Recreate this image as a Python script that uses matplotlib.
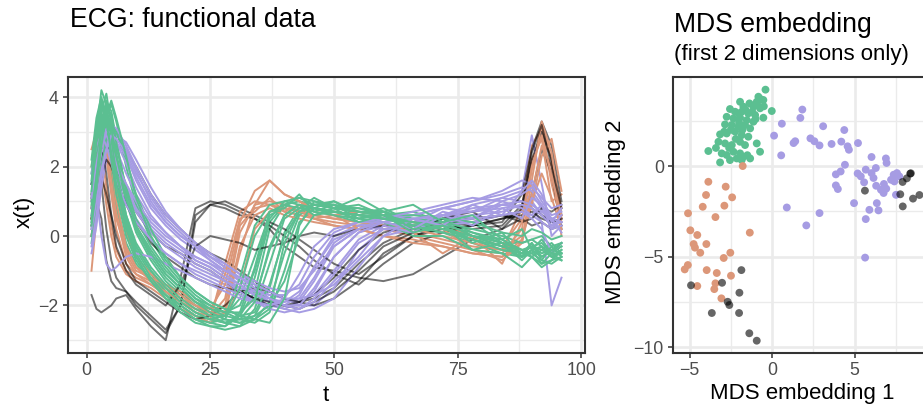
import matplotlib.pyplot as plt
import numpy as np

plt.rcParams['font.family'] = ['Liberation Sans', 'DejaVu Sans']

# colours of the four clusters
GREEN = '#5BBF91'
ORANGE = '#DC9779'
PURPLE = '#A69CE3'
BLACK = '#000000'

# time grid of the ECG curves (values read at these t)
t = [1, 2, 3, 4, 5, 6, 8, 10, 13, 16, 19, 22, 25, 28, 31, 34,
     37, 40, 43, 46, 50, 55, 60, 66, 72, 78, 84, 88, 90, 92, 94, 96]

green_curves = [
    [1.0, 2.5, 3.6, 4.1, 3.2, 2.0, 0.6, -0.3, -1.0, -1.5, -1.9, -2.2, -2.4, -2.5, -2.3, -1.6, 0.2, 0.9, 1.0, 0.9, 0.9, 0.6, 0.8, 0.4, 0.5, 0.0, -0.2, -0.5, -0.2, -0.6, -0.4, -0.5],
    [0.5, 1.8, 3.0, 3.8, 3.6, 2.8, 1.2, 0.2, -0.6, -1.2, -1.6, -2.0, -2.2, -2.4, -2.5, -2.3, -1.5, 0.1, 0.8, 1.1, 0.8, 0.9, 0.6, 0.7, 0.4, 0.4, -0.2, -0.2, -0.1, -0.3, -0.5, -0.3],
    [2.0, 3.2, 3.9, 3.0, 1.8, 0.9, -0.2, -0.8, -1.3, -1.7, -2.0, -2.3, -2.5, -2.6, -2.3, -1.2, 0.4, 0.9, 1.1, 0.9, 0.8, 0.8, 0.6, 0.4, 0.2, -0.1, -0.4, -0.6, -0.5, -0.7, -0.8, -0.6],
    [-0.2, 0.8, 2.4, 3.4, 3.8, 3.3, 2.0, 0.9, -0.1, -0.8, -1.3, -1.7, -2.0, -2.2, -2.4, -2.5, -2.2, -1.0, 0.4, 0.8, 1.0, 0.6, 0.6, 0.2, 0.3, -0.1, -0.3, -0.6, -0.4, -0.3, -0.6, -0.7],
    [1.5, 2.8, 3.5, 3.1, 2.4, 1.6, 0.4, -0.4, -1.1, -1.6, -2.0, -2.3, -2.4, -2.3, -1.8, -0.6, 0.6, 0.8, 0.7, 0.8, 0.6, 0.5, 0.4, 0.2, 0.1, -0.2, -0.5, -0.6, -0.4, -0.6, -0.4, -0.3],
    [0.8, 2.0, 3.3, 3.9, 3.4, 2.4, 1.0, 0.1, -0.7, -1.3, -1.7, -2.0, -2.3, -2.5, -2.6, -2.4, -1.9, -0.5, 0.6, 0.9, 1.0, 0.7, 0.7, 0.3, 0.5, 0.1, -0.1, -0.4, -0.6, -0.4, -0.2, -0.5],
    [0.2, 1.5, 2.8, 3.3, 3.0, 2.2, 1.0, 0.2, -0.5, -1.1, -1.5, -1.9, -2.1, -2.2, -2.0, -1.0, 0.5, 1.0, 1.1, 1.0, 0.9, 0.8, 0.7, 0.5, 0.4, 0.2, 0.0, -0.2, -0.1, 0.0, -0.3, -0.2],
    [1.8, 3.0, 3.7, 3.5, 2.6, 1.5, 0.3, -0.5, -1.2, -1.7, -2.1, -2.4, -2.6, -2.7, -2.6, -2.1, -0.8, 0.5, 0.8, 0.7, 0.6, 0.4, 0.4, 0.0, 0.0, -0.4, -0.5, -0.9, -0.6, -0.9, -0.7, -0.6],
    [0.0, 1.0, 2.0, 2.8, 3.2, 3.0, 2.2, 1.2, 0.2, -0.6, -1.2, -1.6, -1.9, -2.1, -2.3, -2.2, -1.4, 0.0, 0.7, 0.9, 0.8, 0.7, 0.6, 0.6, 0.5, 0.4, 0.1, 0.0, 0.2, 0.1, -0.1, 0.0],
    [1.2, 2.6, 3.4, 3.6, 2.9, 1.9, 0.6, -0.2, -0.9, -1.4, -1.8, -2.1, -2.3, -2.3, -1.2, 0.3, 0.9, 1.0, 0.9, 0.8, 0.7, 0.6, 0.5, 0.3, 0.2, 0.0, -0.3, -0.4, -0.3, -0.5, -0.4, -0.2],
    [0.6, 1.9, 2.9, 3.5, 3.3, 2.6, 1.4, 0.5, -0.3, -0.9, -1.4, -1.8, -2.1, -2.3, -2.4, -2.3, -2.0, -1.3, 0.0, 0.6, 0.7, 0.5, 0.6, 0.3, 0.4, 0.0, -0.1, -0.5, -0.3, -0.2, -0.5, -0.5],
    [2.2, 3.4, 4.0, 3.4, 2.2, 1.2, 0.0, -0.7, -1.3, -1.8, -2.1, -2.4, -2.5, -2.4, -1.5, 0.0, 0.7, 0.9, 0.8, 0.8, 0.7, 0.6, 0.5, 0.3, 0.1, -0.1, -0.4, -0.5, -0.3, -0.4, -0.6, -0.5],
    [0.9, 2.2, 3.1, 3.7, 3.5, 2.7, 1.3, 0.3, -0.5, -1.1, -1.5, -1.9, -2.2, -2.4, -2.5, -2.4, -2.1, -0.2, 0.7, 0.9, 0.8, 0.7, 0.6, 0.4, 0.3, 0.1, -0.2, -0.4, -0.5, -0.3, -0.6, -0.4],
    [1.6, 3.0, 4.2, 3.8, 2.8, 1.8, 0.5, -0.3, -1.0, -1.5, -1.9, -2.2, -2.4, -2.5, -2.4, -1.9, -0.3, 0.6, 0.9, 0.8, 0.7, 0.6, 0.5, 0.4, 0.2, 0.0, -0.3, -0.5, -0.6, -0.8, -0.7, -0.4],
    [0.3, 1.4, 2.6, 3.5, 3.9, 3.4, 2.3, 1.1, 0.0, -0.7, -1.2, -1.6, -1.9, -2.1, -2.3, -2.4, -2.5, -1.8, 0.3, 1.0, 0.8, 1.1, 0.7, 0.9, 0.4, 0.6, -0.1, 0.2, -0.4, -0.1, -0.5, -0.2],
    [1.3, 2.7, 3.8, 3.3, 2.4, 1.5, 0.2, -0.6, -1.3, -1.8, -2.2, -2.5, -2.6, -2.6, -2.2, -0.9, 0.7, 0.8, 1.2, 0.7, 0.9, 0.5, 0.7, 0.2, 0.3, -0.4, -0.2, -0.7, -0.4, -0.8, -0.5, -0.7],
    [0.4, 1.7, 3.0, 3.6, 3.1, 2.3, 1.1, 0.3, -0.4, -1.0, -1.4, -1.8, -2.0, -2.2, -2.2, -1.8, -0.4, 0.6, 0.9, 0.6, 0.8, 0.4, 0.6, 0.1, 0.3, -0.2, 0.1, -0.6, -0.2, -0.7, -0.3, -0.6],
]

purple_curves = [
    [0.5, 1.5, 2.6, 3.2, 3.3, 3.0, 2.3, 1.6, 0.8, 0.3, -0.1, -0.4, -0.7, -1.0, -1.3, -1.6, -1.8, -1.9, -1.8, -1.2, -0.2, 0.3, 0.5, 0.4, 0.8, 0.7, 1.1, 1.0, 1.0, 0.6, 0.3, 0.4],
    [1.0, 2.0, 2.8, 3.0, 2.7, 2.2, 1.5, 0.9, 0.3, -0.1, -0.4, -0.7, -0.9, -1.2, -1.5, -1.7, -1.9, -2.0, -2.0, -1.6, -0.6, 0.1, 0.3, 0.4, 0.6, 0.7, 0.9, 1.0, 1.2, 0.8, 0.2, 0.5],
    [0.0, 0.9, 2.0, 2.8, 3.1, 3.0, 2.5, 1.9, 1.0, 0.4, 0.0, -0.3, -0.6, -0.9, -1.2, -1.5, -1.7, -1.8, -1.9, -1.7, -1.0, -0.1, 0.3, 0.4, 0.6, 0.9, 1.1, 1.3, 2.9, 1.5, 0.0, 0.3],
    [1.5, 2.5, 3.0, 2.8, 2.3, 1.8, 1.1, 0.5, -0.1, -0.5, -0.8, -1.0, -1.2, -1.4, -1.6, -1.8, -2.0, -2.1, -1.9, -1.3, -0.3, 0.2, 0.3, 0.4, 0.5, 0.6, 0.7, 0.9, 0.8, 0.4, -2.0, -1.2],
    [0.3, 1.2, 2.2, 2.9, 3.2, 3.1, 2.6, 2.0, 1.2, 0.6, 0.2, -0.2, -0.5, -0.8, -1.1, -1.4, -1.6, -1.8, -2.0, -2.0, -1.5, -0.4, 0.2, 0.1, 0.6, 0.5, 0.9, 0.8, 0.9, 0.7, 0.5, 0.6],
    [0.8, 1.8, 2.7, 3.1, 2.9, 2.5, 1.8, 1.2, 0.5, 0.1, -0.3, -0.6, -0.8, -1.1, -1.4, -1.7, -1.9, -2.0, -1.7, -0.9, 0.0, 0.3, 0.4, 0.6, 0.8, 1.0, 1.2, 1.4, 1.3, 0.9, 0.4, 0.2],
    [-0.5, 0.3, 1.4, 2.2, 2.7, 2.9, 2.7, 2.2, 1.4, 0.7, 0.2, -0.2, -0.6, -0.9, -1.3, -1.6, -1.9, -2.1, -2.2, -2.1, -1.8, -0.9, 0.0, 0.2, 0.3, 0.4, 0.6, 0.7, 0.6, 0.4, 0.2, 0.3],
    [1.2, 2.2, 2.9, 3.0, 2.6, 2.0, 1.3, 0.7, 0.1, -0.3, -0.6, -0.9, -1.1, -1.3, -1.5, -1.6, -1.7, -1.7, -1.4, -0.6, 0.1, 0.4, 0.5, 0.6, 0.8, 1.0, 1.3, 1.6, 1.5, 1.0, 0.6, 0.7],
    [0.6, 1.6, 2.4, 2.7, 2.5, 2.1, 1.4, 0.8, 0.2, -0.2, -0.5, -0.8, -1.0, -1.3, -1.6, -1.9, -2.1, -2.2, -2.1, -1.8, -1.1, -0.2, 0.2, 0.3, 0.4, 0.5, 0.6, 0.7, 0.5, 0.2, -0.5, -0.2],
    [0.2, 1.0, 1.9, 2.5, 2.8, 2.7, 2.3, 1.7, 0.9, 0.4, 0.0, -0.3, -0.6, -0.8, -1.1, -1.3, -1.5, -1.6, -1.5, -1.0, -0.3, 0.2, 0.5, 0.7, 0.9, 1.1, 1.0, 1.2, 1.4, 1.1, 0.8, 0.9],
    [0.8, 1.2, 0.0, -0.8, -1.0, -0.9, -0.6, -0.5, -0.6, -0.8, -1.0, -1.2, -1.4, -1.6, -1.8, -1.9, -2.0, -1.9, -1.6, -0.9, -0.1, 0.2, 0.4, 0.5, 0.6, 0.7, 0.8, 0.9, 0.8, 0.6, 0.3, 0.4],
    [1.8, 2.6, 2.9, 2.6, 2.1, 1.6, 0.9, 0.4, -0.1, -0.5, -0.8, -1.1, -1.3, -1.5, -1.7, -1.9, -2.0, -1.8, -1.1, -0.3, 0.2, 0.4, 0.4, 0.5, 0.6, 0.8, 0.9, 1.0, 0.9, 0.7, 0.5, 0.4],
    [0.4, 1.4, 2.5, 3.0, 3.0, 2.7, 2.1, 1.4, 0.6, 0.1, -0.3, -0.7, -0.9, -1.2, -1.4, -1.7, -1.8, -2.0, -2.1, -1.9, -1.3, -0.6, 0.3, 0.1, 0.6, 0.3, 0.8, 0.5, 1.1, 0.9, 0.2, 0.6],
    [1.1, 2.1, 2.8, 2.9, 2.6, 2.1, 1.5, 1.0, 0.4, 0.0, -0.3, -0.6, -0.8, -1.0, -1.2, -1.4, -1.6, -1.8, -1.8, -1.7, -1.4, -0.7, 0.0, 0.5, 0.3, 0.9, 0.6, 1.3, 1.6, 1.2, 0.4, 0.8],
    [-0.3, 0.6, 1.7, 2.5, 2.9, 2.8, 2.4, 1.8, 1.1, 0.5, 0.1, -0.3, -0.7, -1.0, -1.2, -1.5, -1.8, -2.0, -2.0, -1.5, -0.6, 0.1, 0.4, 0.2, 0.7, 0.5, 1.0, 0.8, 0.6, 0.9, 0.5, 0.1],
]

orange_curves = [
    [1.0, 2.2, 3.0, 2.4, 1.2, 0.2, -0.8, -1.1, -1.3, -1.6, -1.9, -2.2, -2.3, -1.8, 0.3, 0.8, 0.9, 0.8, 0.7, 0.6, 0.5, 0.4, 0.3, 0.1, -0.1, -0.3, -0.4, 0.8, 2.6, 3.1, 1.5, 0.4],
    [2.0, 2.9, 2.5, 1.4, 0.3, -0.4, -1.0, -1.2, -1.4, -1.7, -2.0, -2.3, -2.4, -0.8, 0.7, 1.0, 0.9, 0.7, 0.6, 0.5, 0.4, 0.3, 0.2, 0.0, -0.2, -0.4, -0.5, 0.2, 1.9, 3.2, 2.2, 0.8],
    [-1.0, 0.5, 2.3, 2.8, 1.9, 0.8, -0.5, -1.0, -1.2, -1.5, -1.8, -2.0, -2.1, -2.2, -0.5, 0.9, 1.6, 1.2, 1.0, 0.8, 0.7, 0.6, 0.5, 0.4, 0.3, 0.0, -0.3, 0.5, 2.2, 2.8, 1.0, 1.2],
    [0.5, 1.6, 2.6, 3.1, 2.2, 1.0, -0.3, -0.9, -1.3, -1.5, -1.8, -2.1, -2.2, -2.0, 0.1, 0.9, 1.0, 0.9, 0.7, 0.5, 0.3, 0.2, 0.0, -0.1, -0.3, -0.5, -0.6, -0.2, 1.2, 2.6, 2.0, 0.0],
    [2.5, 3.0, 2.0, 0.9, 0.0, -0.6, -1.1, -1.3, -1.5, -1.8, -2.1, -2.3, -2.5, -2.2, -0.3, 0.6, 0.8, 0.6, 0.5, 0.4, 0.3, 0.2, 0.0, -0.2, -0.3, -0.5, -0.6, -0.1, 0.9, 2.3, 2.8, 1.3],
    [1.2, 2.3, 2.7, 2.2, 1.3, 0.5, -0.4, -0.9, -1.2, -1.4, -1.6, -1.9, -2.1, -1.4, 0.4, 1.3, 1.6, 1.2, 1.0, 0.7, 0.6, 0.7, 0.6, 0.4, 0.2, -0.4, -0.7, -0.2, 1.6, 3.3, 2.4, 0.5],
    [0.0, 1.2, 2.0, 2.4, 2.0, 1.3, 0.1, -0.6, -1.1, -1.4, -1.7, -2.0, -2.2, -2.3, -1.5, 0.2, 0.7, 0.8, 0.7, 0.6, 0.5, 0.4, 0.3, 0.2, 0.0, -0.2, -0.4, 0.0, 1.0, 1.8, 1.1, 0.2],
    [0.8, 1.9, 2.8, 2.6, 1.6, 0.6, -0.6, -1.1, -1.4, -1.6, -1.9, -2.1, -2.3, -1.1, 0.5, 0.7, 1.1, 0.7, 0.9, 0.5, 0.6, 0.2, 0.4, 0.1, -0.5, 0.0, -0.8, 0.4, 2.0, 2.9, 1.7, 0.6],
]

black_curves = [
    [-1.7, -2.1, -2.2, -2.1, -2.0, -1.8, -1.7, -2.1, -2.6, -3.0, -1.2, 0.8, 1.0, 0.9, 0.7, 0.5, 0.2, -0.3, -0.6, -0.9, -1.0, -1.2, -1.3, -1.1, -0.6, -0.1, 0.2, 0.5, 1.2, 2.5, 1.8, 0.2],
    [1.2, 1.8, 2.2, 2.4, 2.5, 2.6, 2.5, 2.0, 1.2, 0.6, 0.2, -0.2, -0.5, -0.7, -1.0, -1.3, -1.6, -1.8, -1.9, -1.8, -1.5, -0.8, -0.2, 0.2, 0.4, 0.3, 0.5, 0.7, 0.8, 0.6, 0.4, 0.5],
    [0.0, 1.0, 0.5, -0.7, -1.3, -1.5, -1.6, -1.9, -2.3, -2.7, -2.0, 0.6, 0.9, 0.8, 0.6, 0.5, 0.3, 0.0, -0.3, -0.7, -1.1, -1.4, -0.8, -0.2, 0.1, 0.3, 0.4, 1.2, 2.5, 3.3, 2.6, 1.0],
    [1.1, 2.4, 1.5, 0.2, -0.7, -1.2, -1.6, -2.0, -2.4, -2.8, -2.0, 0.4, 0.9, 1.0, 0.8, 0.6, 0.4, 0.2, -0.1, -0.4, -0.8, -1.1, -0.6, 0.0, 0.3, 0.2, 0.3, 0.9, 2.2, 3.0, 2.2, 0.6],
    [0.8, 1.6, 2.3, 2.6, 2.4, 2.0, 1.3, 0.7, 0.1, -0.3, -0.5, -0.8, -1.0, -1.3, -1.6, -1.8, -2.0, -2.0, -1.9, -1.7, -1.2, -0.4, 0.1, 0.3, 0.5, 0.4, 0.6, 0.5, 0.3, 0.4, 0.2, 0.3],
    [1.5, 2.0, 1.7, 1.2, 0.6, 0.0, -0.8, -1.3, -1.6, -1.9, -2.2, -2.4, -2.3, -2.0, -1.6, -1.5, -1.6, -1.8, -1.9, -2.0, -1.8, -1.3, -0.5, 0.0, 0.2, 0.3, 0.5, 0.6, 0.7, 0.5, 0.4, 0.5],
    [0.5, 1.5, 2.6, 1.8, 0.6, -0.3, -1.0, -1.4, -1.7, -2.0, -1.4, -0.3, 0.0, -0.1, -0.2, -0.4, -0.3, -0.2, 0.0, 0.1, 0.0, 0.2, 0.3, 0.2, 0.4, 0.5, 0.6, 0.4, 0.5, 0.8, 0.7, 0.9],
    [0.3, 1.1, 1.9, 2.2, 2.0, 1.6, 0.9, 0.4, -0.2, -0.6, -0.9, -1.2, -1.4, -1.5, -1.6, -1.8, -1.9, -2.0, -2.1, -1.9, -1.6, -1.0, -0.3, 0.1, 0.5, 0.7, 0.2, 0.8, 2.4, 3.2, 2.0, 0.8],
]

# MDS embedding, (dim 1, dim 2) per observation
green_pts = [(-0.40, 4.22), (-0.83, 3.83), (-0.53, 3.65), (-0.93, 3.55), (-0.02, 3.04), (-1.94, 3.55),
             (-1.37, 3.46), (-1.74, 3.28), (-1.13, 3.28), (-0.73, 3.19), (-2.55, 3.15), (-2.24, 3.00),
             (-1.84, 3.00), (-1.44, 2.91), (-1.03, 2.82), (-0.53, 2.67), (-2.75, 2.72), (-2.34, 2.63),
             (-1.94, 2.67), (-1.53, 2.54), (-1.13, 2.45), (-2.85, 2.30), (-2.44, 2.27), (-2.04, 2.17),
             (-1.64, 2.27), (-1.33, 2.08), (-3.15, 1.75), (-2.75, 1.80), (-2.24, 1.90), (-1.84, 1.71),
             (-1.44, 1.62), (-3.25, 1.34), (-2.85, 1.25), (-2.44, 1.16), (-1.94, 1.34), (-1.64, 1.16),
             (-0.93, 1.25), (-3.86, 0.83), (-3.05, 0.70), (-2.75, 0.61), (-2.34, 0.79), (-1.94, 0.70),
             (-1.74, 0.51), (-1.33, 0.42), (-0.73, 0.79), (-3.15, 0.20), (-2.55, 0.33), (-2.14, 0.42),
             (-1.84, 0.33), (-2.50, 2.00), (-2.00, 2.40), (-1.20, 3.00), (-0.70, 3.70), (-1.60, 3.10),
             (-2.90, 1.90), (-2.20, 1.50), (-1.00, 2.60), (-0.50, 3.30), (-3.40, 1.00), (-2.60, 1.00),
             (-1.50, 0.60), (-0.90, 3.40), (-2.00, 2.90), (-1.80, 2.00)]

purple_pts = [(1.83, 3.12), (1.71, 2.66), (0.59, 2.34), (3.09, 2.20), (0.12, 1.68), (1.30, 1.27),
              (1.40, 1.37), (2.32, 1.53), (2.56, 1.37), (2.87, 1.14), (3.60, 1.22), (4.19, 1.35),
              (4.37, 1.99), (4.57, 1.09), (4.65, 0.90), (5.20, 1.27), (0.55, 0.59), (4.41, 0.07),
              (6.02, 0.50), (6.89, 0.42), (6.93, 0.17), (3.86, -0.46), (4.15, -0.30), (5.18, -0.41),
              (5.37, -0.57), (5.67, -0.20), (6.02, -0.39), (6.28, -0.11), (6.14, -0.66), (5.57, -0.90),
              (3.86, -1.07), (3.98, -1.27), (4.96, -2.05), (6.30, -1.09), (6.77, -0.99), (6.91, -1.25),
              (6.59, -1.31), (6.75, -1.49), (7.36, -0.48), (7.56, -0.39), (7.70, -0.57), (7.40, -0.85),
              (7.20, -0.76), (7.50, -1.59), (0.89, -2.29), (2.07, -3.28), (2.87, -2.60), (5.89, -2.42),
              (6.34, -2.05), (6.44, -2.45), (5.67, -2.93), (5.63, -5.06)]

orange_pts = [(-1.78, 0.00), (-3.86, -0.87), (-2.81, -1.14), (-4.00, -1.60), (-2.42, -1.73), (-4.20, -2.25),
              (-2.89, -2.19), (-5.09, -2.61), (-3.43, -2.82), (-4.95, -3.55), (-4.53, -3.81), (-1.35, -3.68),
              (-4.75, -4.31), (-4.67, -4.51), (-3.98, -4.31), (-4.35, -4.79), (-2.53, -4.79), (-2.93, -5.08),
              (-5.10, -5.47), (-5.29, -5.71), (-3.96, -5.75), (-3.35, -5.91), (-2.49, -6.06), (-4.53, -6.63),
              (-3.43, -6.48), (-3.50, -6.80), (-3.07, -7.31)]

black_pts = [(-1.86, -5.75), (-4.91, -6.59), (-3.03, -6.45), (-1.98, -7.00), (-2.69, -7.50), (-2.59, -7.68),
             (-3.65, -8.12), (-2.00, -8.12), (-1.38, -9.24), (-0.93, -9.65), (8.36, -0.42), (8.40, -0.40),
             (8.16, -0.68), (7.90, -0.88), (5.62, -1.36), (7.76, -1.56), (8.92, -1.60), (8.53, -1.80),
             (7.91, -2.23)]

W, H = 923, 409
fig = plt.figure(figsize=(W / 100, H / 100), dpi=100)


def px_rect(left, top, right, bottom):
    return [left / W, 1 - bottom / H, (right - left) / W, (bottom - top) / H]


def style(ax, xmaj, xmin, ymaj, ymin):
    ax.set_xticks(xmaj)
    ax.set_xticks(xmin, minor=True)
    ax.set_yticks(ymaj)
    ax.set_yticks(ymin, minor=True)
    ax.grid(which='major', color='#EBEBEB', lw=1.9)
    ax.grid(which='minor', color='#EBEBEB', lw=0.95)
    ax.set_axisbelow(True)
    ax.tick_params(which='minor', length=0)
    ax.tick_params(which='major', length=3.6, width=1.1, color='#333333',
                   labelsize=12.8, labelcolor='#4D4D4D', pad=3)
    for s in ax.spines.values():
        s.set_color('#333333')
        s.set_linewidth(1.5)


# left panel: functional data
ax1 = fig.add_axes(px_rect(68, 77, 585, 353))
groups = [(orange_curves, ORANGE, 1.0), (purple_curves, PURPLE, 1.0),
          (green_curves, GREEN, 1.0), (black_curves, BLACK, 0.55)]
n = max(len(g[0]) for g in groups)
for i in range(n):
    for curves, col, a in groups:
        if i < len(curves):
            ax1.plot(t, curves[i], color=col, alpha=a, lw=1.4)
ax1.set_xlim(-3.75, 100.75)
ax1.set_ylim(-3.37, 4.58)
style(ax1, [0, 25, 50, 75, 100], [12.5, 37.5, 62.5, 87.5], [-2, 0, 2, 4], [-3, -1, 1, 3])

# right panel: MDS embedding (runs off the right edge like the original)
ax2 = fig.add_axes(px_rect(673, 77, 931, 353))
for pts, col, a in [(green_pts, GREEN, 1.0), (purple_pts, PURPLE, 1.0),
                    (orange_pts, ORANGE, 1.0), (black_pts, BLACK, 0.6)]:
    xs, ys = zip(*pts)
    ax2.scatter(xs, ys, s=32, color=col, alpha=a, edgecolors='none')
ax2.set_xlim(-6.0, 9.62)
ax2.set_ylim(-10.33, 4.92)
style(ax2, [-5, 0, 5], [-2.5, 2.5, 7.5], [-10, -5, 0], [-7.5, -2.5, 2.5])

# titles and axis labels
fig.text(70 / W, 1 - 27 / H, 'ECG: functional data', fontsize=19.2, va='baseline', ha='left')
fig.text(674 / W, 1 - 32 / H, 'MDS embedding', fontsize=19.2, va='baseline', ha='left')
fig.text(674 / W, 1 - 60 / H, '(first 2 dimensions only)', fontsize=16, va='baseline', ha='left')
fig.text(326 / W, 1 - 401 / H, 't', fontsize=16, va='baseline', ha='center')
fig.text(802 / W, 1 - 399 / H, 'MDS embedding 1', fontsize=16, va='baseline', ha='center')
fig.text(24 / W, 1 - 212 / H, 'x(t)', fontsize=16, va='center', ha='center', rotation=90)
fig.text(616 / W, 1 - 212 / H, 'MDS embedding 2', fontsize=16, va='center', ha='center', rotation=90)

fig.savefig('out.png', dpi=100)
